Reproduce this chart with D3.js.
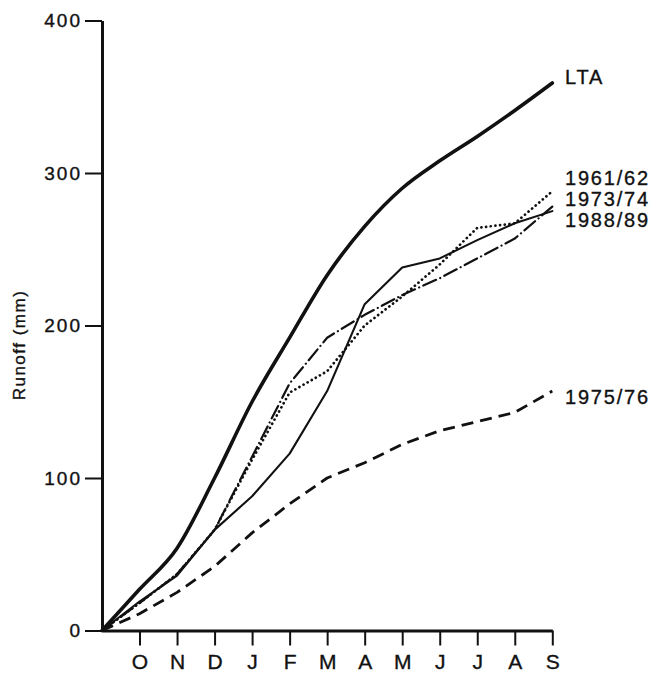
<!DOCTYPE html>
<html>
<head>
<meta charset="utf-8">
<script src="https://cdn.jsdelivr.net/npm/d3@7"></script>
<style>
  html, body { margin: 0; padding: 0; background: #fff; }
  svg text { font-family: "Liberation Sans", Arial, Helvetica, sans-serif; fill: #111; stroke: #111; stroke-width: 0.35px; }
</style>
</head>
<body>
<svg class="js-render-chart" width="658" height="678"></svg>
<script>
"use strict";

//data

const months = ["O", "N", "D", "J", "F", "M", "A", "M", "J", "J", "A", "S"];
const yTicks = [0, 100, 200, 300, 400];

const lta = [0, 27, 54, 100, 150, 192, 233, 265, 290, 308, 324, 341, 359];
const y1961 = [0, 18, 37, 66, 112, 156, 170, 200, 219, 240, 264, 267, 288];
const y1973 = [0, 18, 37, 66, 114, 162, 192, 207, 220, 231, 244, 257, 278];
const y1988 = [0, 19, 36, 66, 88, 116, 157, 214, 238, 244, 256, 267, 275];
const y1975 = [0, 11, 25, 42, 64, 83, 100, 110, 122, 131, 137, 143, 157];

const seriesNames = ["LTA", "1961/62", "1973/74", "1988/89", "1975/76"];
const labelAt = [363, 297, 283, 269, 153];

//styles

const styles = [
  { values: lta, width: 3.6, dash: null, cap: "round", curve: d3.curveMonotoneX },
  { values: y1961, width: 2.7, dash: "0.1,4.6", cap: "round", curve: d3.curveLinear },
  { values: y1973, width: 2.2, dash: "14,4.5,0.1,4.5", cap: "round", curve: d3.curveLinear },
  { values: y1988, width: 2.1, dash: null, cap: "round", curve: d3.curveLinear },
  { values: y1975, width: 2.8, dash: "12,7", cap: "butt", curve: d3.curveLinear }
];

//scales

const x = d3.scaleLinear().domain([0, 12]).range([102, 552.3]);
const y = d3.scaleLinear().domain([0, 400]).range([630.5, 20.5]);

const svg = d3.select(".js-render-chart");

//lines

styles.forEach((s) => {

  const lineFn = d3.line()
    .x((d, i) => x(i))
    .y((d) => y(d))
    .curve(s.curve);

  svg.append("path")
    .datum(s.values)
    .attr("d", lineFn)
    .attr("fill", "none")
    .attr("stroke", "#111")
    .attr("stroke-width", s.width)
    .attr("stroke-linecap", s.cap)
    .attr("stroke-linejoin", "round")
    .attr("stroke-dasharray", s.dash);

});

//axes

const xAxis = svg.append("g")
  .attr("transform", `translate(0, ${y(0)})`)
  .call(d3.axisBottom(x)
    .tickValues(d3.range(1, 13))
    .tickFormat((d) => months[d - 1])
    .tickSize(15)
    .tickSizeOuter(0)
    .tickPadding(9));

const yAxis = svg.append("g")
  .attr("transform", `translate(${x(0)}, 0)`)
  .call(d3.axisLeft(y)
    .tickValues(yTicks)
    .tickSize(17)
    .tickSizeOuter(0)
    .tickPadding(3));

[xAxis, yAxis].forEach((g) => {
  g.select(".domain").attr("stroke", "#111").attr("stroke-width", 3);
  g.selectAll(".tick line").attr("stroke", "#111").attr("stroke-width", 2);
  g.selectAll(".tick text").attr("fill", "#111").attr("font-family", null);
});

xAxis.selectAll(".tick text").attr("font-size", 21);

yAxis.selectAll(".tick text")
  .attr("font-size", 19)
  .attr("letter-spacing", 2);

//axis title

svg.append("text")
  .attr("transform", "translate(25, 345) rotate(-90)")
  .attr("text-anchor", "middle")
  .attr("font-size", 17)
  .attr("letter-spacing", 1.5)
  .text("Runoff (mm)");

//series labels

svg.selectAll(".series-label")
  .data(seriesNames)
  .enter()
  .append("text")
  .attr("class", "series-label")
  .attr("x", 565)
  .attr("y", (d, i) => y(labelAt[i]))
  .attr("dy", "0.36em")
  .attr("font-size", 20)
  .attr("letter-spacing", 1.8)
  .text((d) => d);
</script>
</body>
</html>
